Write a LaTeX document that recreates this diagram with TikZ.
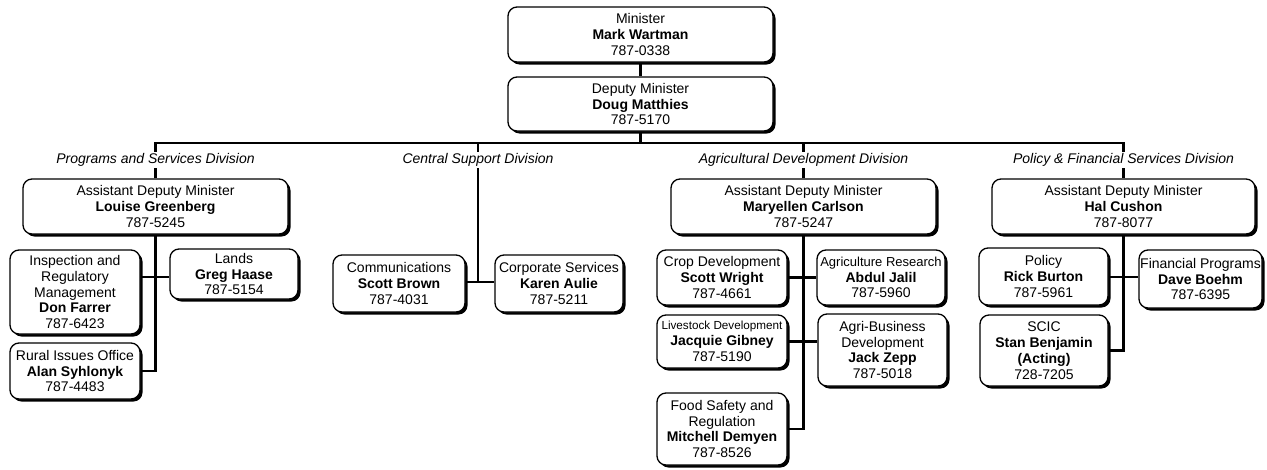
\documentclass[tikz,border=0pt]{standalone}
\usepackage{fontspec}
\setmainfont{Liberation Sans}
\usetikzlibrary{shadows}
\begin{document}
\begin{tikzpicture}[x=1pt,y=-1pt,
  box/.style={draw, line width=1.3pt, rounded corners=9pt, fill=white, align=center,
    inner sep=0pt, font=\fontsize{14}{15.8}\selectfont,
    drop shadow={shadow xshift=2.5pt, shadow yshift=-2.5pt, fill=black, opacity=1}},
  conn/.style={line width=2.8pt},
  divlabel/.style={fill=white, font=\fontsize{14}{16}\selectfont\itshape, inner sep=1.5pt},
  small/.style={font=\fontsize{11.7}{15.8}\selectfont}]
\useasboundingbox (0,0) rectangle (1267,469);
% top
\node[box, minimum width=265pt, minimum height=55pt] (min) at (640.5,34.5) {Minister\\\textbf{Mark Wartman}\\787-0338};
\node[box, minimum width=265pt, minimum height=54pt] (dep) at (640.5,104) {Deputy Minister\\\textbf{Doug Matthies}\\787-5170};
% programs
\node[box, minimum width=265pt, minimum height=55pt] (psadm) at (155.5,206.5) {Assistant Deputy Minister\\\textbf{Louise Greenberg}\\787-5245};
\node[box, minimum width=130pt, minimum height=84pt] (insp) at (75,292) {Inspection and\\Regulatory\\Management\\\textbf{Don Farrer}\\787-6423};
\node[box, minimum width=128pt, minimum height=50pt] (lands) at (234,274) {Lands\\\textbf{Greg Haase}\\787-5154};
\node[box, minimum width=130pt, minimum height=56pt] (rural) at (75,371) {Rural Issues Office\\\textbf{Alan Syhlonyk}\\787-4483};
% central
\node[box, minimum width=132pt, minimum height=57pt] (comm) at (399,283.5) {Communications\\\textbf{Scott Brown}\\787-4031};
\node[box, minimum width=128pt, minimum height=57pt] (corp) at (559,283.5) {Corporate Services\\\textbf{Karen Aulie}\\787-5211};
% agricultural
\node[box, minimum width=265pt, minimum height=55pt] (agadm) at (803.5,206.5) {Assistant Deputy Minister\\\textbf{Maryellen Carlson}\\787-5247};
\node[box, minimum width=130pt, minimum height=55pt] (crop) at (722,277.5) {Crop Development\\\textbf{Scott Wright}\\787-4661};
\node[box, minimum width=128pt, minimum height=55pt] (res) at (881,277.5) {{\fontsize{13}{15.8}\selectfont Agriculture Research}\\\textbf{Abdul Jalil}\\787-5960};
\node[box, minimum width=130pt, minimum height=53pt] (live) at (722,341.5) {{\fontsize{11.7}{15.8}\selectfont Livestock Development}\\\textbf{Jacquie Gibney}\\787-5190};
\node[box, minimum width=129pt, minimum height=72pt] (agbus) at (882.5,350) {Agri-Business\\Development\\\textbf{Jack Zepp}\\787-5018};
\node[box, minimum width=130pt, minimum height=72pt] (food) at (722,429) {Food Safety and\\Regulation\\\textbf{Mitchell Demyen}\\787-8526};
% policy
\node[box, minimum width=263pt, minimum height=55pt] (pfadm) at (1123.5,206.5) {Assistant Deputy Minister\\\textbf{Hal Cushon}\\787-8077};
\node[box, minimum width=129pt, minimum height=57pt] (pol) at (1043.5,276.5) {Policy\\\textbf{Rick Burton}\\787-5961};
\node[box, minimum width=123pt, minimum height=58pt] (fin) at (1200.5,279) {Financial Programs\\\textbf{Dave Boehm}\\787-6395};
\node[box, minimum width=128pt, minimum height=71pt] (scic) at (1044,350.5) {SCIC\\\textbf{Stan Benjamin}\\\textbf{(Acting)}\\728-7205};
% connectors
\coordinate (bus) at (0,143);
\coordinate (csb) at (478,282);
\coordinate (pj) at (0,277);
\draw[conn] (min.south) -- (dep.north);
\draw[conn] (psadm.north) -- (psadm.north |- bus) -- (pfadm.north |- bus) -- (pfadm.north);
\draw[conn] (dep.south) -- (dep.south |- bus);
\draw[conn] (agadm.north) -- (agadm.north |- bus);
\draw[conn] (csb |- bus) -- (csb);
\draw[conn] (comm.east |- csb) -- (corp.west |- csb);
\draw[conn] (psadm.south) -- (psadm.south |- rural.east) -- (rural.east);
\draw[conn] (insp.east |- pj) -- (lands.west |- pj);
\draw[conn] (agadm.south) -- (agadm.south |- food.east) -- (food.east);
\draw[conn] (crop.east) -- (res.west |- crop.east);
\draw[conn] (live.east) -- (agbus.west |- live.east);
\draw[conn] (pfadm.south) -- (pfadm.south |- scic.east) -- (scic.east);
\draw[conn] (pol.east |- pj) -- (fin.west |- pj);
% division labels
\node[divlabel] (dl1) at (155.5,160) {Programs and Services Division};
\node[divlabel] (dl2) at (478,160) {Central Support Division};
\node[divlabel] (dl3) at (803.5,160) {Agricultural Development Division};
\node[divlabel] (dl4) at (1123.5,160) {Policy \& Financial Services Division};
\end{tikzpicture}
\end{document}
